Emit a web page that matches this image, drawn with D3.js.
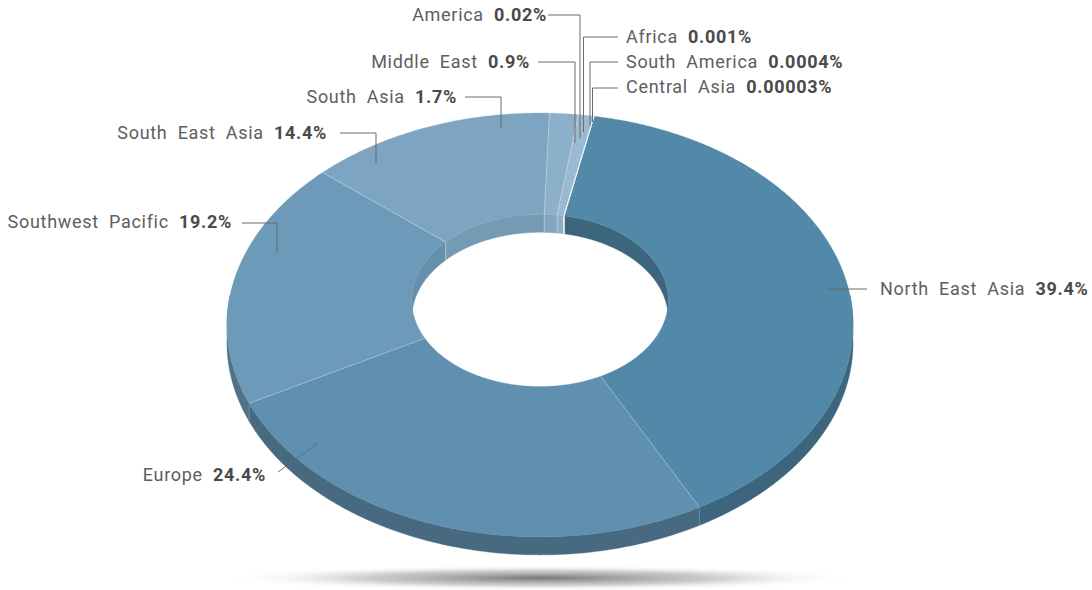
<!DOCTYPE html>
<html>
<head>
<meta charset="utf-8">
<script src="https://cdn.jsdelivr.net/npm/d3@7"></script>
<style>
  html, body { margin: 0; padding: 0; background: #ffffff; }
  svg { display: block; }
  .lbl { font-family: Roboto, "Liberation Sans", sans-serif; font-size: 18px; word-spacing: 5px; letter-spacing: 0.7px; }
</style>
</head>
<body>
<svg id="chart" width="1092" height="590"></svg>
<script>
// ---------------- data ----------------
const categories = ["North East Asia", "Europe", "Southwest Pacific", "South East Asia", "South Asia",
                    "Middle East", "America", "Africa", "South America", "Central Asia"];
const shares = [39.4, 24.4, 19.2, 14.4, 1.7, 0.9, 0.02, 0.001, 0.0004, 0.00003];
const valueLabels = ["39.4%", "24.4%", "19.2%", "14.4%", "1.7%", "0.9%", "0.02%", "0.001%", "0.0004%", "0.00003%"];
const colors = ["#5289a9", "#6090af", "#6e9ab9", "#7da5c1", "#8db0ca", "#9bbad2", "#a6c2d7", "#aec8db", "#b4ccde", "#b8cfe0"];

// ---------------- label layout (annotation placement) ----------------
const labelLayout = [
  { anchor: "start", x: 880, y: 289, tick: [[867, 289], [827, 289]] },
  { anchor: "end",   x: 266, y: 475, tick: [[278, 472], [318, 443]] },
  { anchor: "end",   x: 232, y: 222, tick: [[242, 223], [277, 223], [277, 253]] },
  { anchor: "end",   x: 327, y: 133, tick: [[340, 133], [376, 133], [376, 163]] },
  { anchor: "end",   x: 457, y: 97,  tick: [[465, 97], [501, 97], [501, 128]] },
  { anchor: "end",   x: 530, y: 62,  tick: [[538, 62], [575, 62], [575, 143]] },
  { anchor: "end",   x: 547, y: 15,  tick: [[548, 15], [580, 15], [580, 138]] },
  { anchor: "start", x: 626, y: 37,  tick: [[618, 37], [583.5, 37], [583.5, 132]] },
  { anchor: "start", x: 626, y: 62,  tick: [[618, 62], [590, 62], [590, 126]] },
  { anchor: "start", x: 626, y: 87,  tick: [[618, 88], [592.5, 88], [592.5, 122]] }
];

// ---------------- geometry ----------------
const svg = d3.select("#chart");
const cx = 540, cy = 295.5;          // projected centre of the pie plane
const alpha = 42.1 * Math.PI / 180;  // tilt
const sinA = Math.sin(alpha), cosA = Math.cos(alpha);
const viewDist = 1655;
const Rout = 310, Rin = 128, depth = 18;
const startDeg = 11.43;

function proj(theta, rho) {
  const X = rho * Math.sin(theta), Z = -rho * Math.cos(theta);
  const f = viewDist / (viewDist - Z * cosA);
  return [cx + X * f, cy + Z * sinA * f];
}
function arcPts(a0, a1, rho, dy) {
  const n = Math.max(2, Math.ceil(Math.abs(a1 - a0) / (0.4 * Math.PI / 180)));
  return d3.range(n + 1).map(i => {
    const p = proj(a0 + (a1 - a0) * i / n, rho);
    return [p[0], p[1] + (dy || 0)];
  });
}
const line = d3.line();

const pie = d3.pie().sort(null).value(d => d)
  .startAngle(startDeg * Math.PI / 180)
  .endAngle(startDeg * Math.PI / 180 + 2 * Math.PI);
const arcs = pie(shares);

// ---------------- shadow ----------------
const defs = svg.append("defs");
const grad = defs.append("radialGradient").attr("id", "shadowGrad");
grad.append("stop").attr("offset", "0%").attr("stop-color", "#707074").attr("stop-opacity", 0.95);
grad.append("stop").attr("offset", "55%").attr("stop-color", "#a4a4a8").attr("stop-opacity", 0.55);
grad.append("stop").attr("offset", "100%").attr("stop-color", "#ffffff").attr("stop-opacity", 0);
svg.append("ellipse").attr("cx", cx).attr("cy", 578).attr("rx", 318).attr("ry", 13)
  .attr("fill", "url(#shadowGrad)");

const gPie = svg.append("g");

function sideColor(c) { return d3.color(c).darker(0.85).formatHex(); }
function innerLight(c) { return d3.color(c).darker(0.2).formatHex(); }

// inner walls (visible back half: theta in [0, pi/2] and [3pi/2, 5pi/2])
const innerRanges = [[0, Math.PI / 2, true], [1.5 * Math.PI, 2.5 * Math.PI, false]];
arcs.forEach((a, i) => {
  innerRanges.forEach(([lo, hi, dark]) => {
    const b0 = Math.max(a.startAngle, lo), b1 = Math.min(a.endAngle, hi);
    if (b1 <= b0) return;
    const top = arcPts(b0, b1, Rin, 0);
    const bot = arcPts(b0, b1, Rin, depth).reverse();
    gPie.append("path").attr("d", line(top.concat(bot)) + "Z")
      .attr("fill", dark ? sideColor(colors[i]) : innerLight(colors[i]))
      .attr("stroke", dark ? sideColor(colors[i]) : innerLight(colors[i])).attr("stroke-width", 0.4);
  });
});
// inner wall seams at slice boundaries
arcs.forEach((a) => {
  const th = a.startAngle;
  const inBack = (th <= Math.PI / 2) || (th >= 1.5 * Math.PI);
  if (!inBack) return;
  const p = proj(th, Rin);
  gPie.append("line").attr("x1", p[0]).attr("y1", p[1]).attr("x2", p[0]).attr("y2", p[1] + depth)
    .attr("stroke", "rgba(255,255,255,0.45)").attr("stroke-width", 0.8);
});

// outer walls (visible front half: theta in [pi/2, 3pi/2])
arcs.forEach((a, i) => {
  const b0 = Math.max(a.startAngle, Math.PI / 2), b1 = Math.min(a.endAngle, 1.5 * Math.PI);
  if (b1 <= b0) return;
  const top = arcPts(b0, b1, Rout, 0);
  const bot = arcPts(b0, b1, Rout, depth).reverse();
  gPie.append("path").attr("d", line(top.concat(bot)) + "Z")
    .attr("fill", sideColor(colors[i])).attr("stroke", sideColor(colors[i])).attr("stroke-width", 0.4);
});

// top faces
arcs.forEach((a, i) => {
  const outer = arcPts(a.startAngle, a.endAngle, Rout, 0);
  const inner = arcPts(a.startAngle, a.endAngle, Rin, 0).reverse();
  gPie.append("path").attr("d", line(outer.concat(inner)) + "Z")
    .attr("fill", colors[i]).attr("stroke", colors[i]).attr("stroke-width", 0.3);
});
// top-face seams
arcs.forEach((a) => {
  const p0 = proj(a.startAngle, Rin), p1 = proj(a.startAngle, Rout);
  gPie.append("line").attr("x1", p0[0]).attr("y1", p0[1]).attr("x2", p1[0]).attr("y2", p1[1])
    .attr("stroke", "rgba(255,255,255,0.35)").attr("stroke-width", 0.8);
});
// seam down the outer wall at boundaries on the front
arcs.forEach((a) => {
  const th = a.startAngle;
  if (th < Math.PI / 2 || th > 1.5 * Math.PI) return;
  const p = proj(th, Rout);
  gPie.append("line").attr("x1", p[0]).attr("y1", p[1]).attr("x2", p[0]).attr("y2", p[1] + depth)
    .attr("stroke", "rgba(255,255,255,0.2)").attr("stroke-width", 0.8);
});

// ---------------- labels ----------------
const gLab = svg.append("g");
categories.forEach((name, i) => {
  const L = labelLayout[i];
  gLab.append("path").attr("d", line(L.tick)).attr("fill", "none")
    .attr("stroke", "#6b6b6b").attr("stroke-width", 1);
  const t = gLab.append("text").attr("class", "lbl")
    .attr("x", L.x).attr("y", L.y).attr("dy", "0.36em")
    .attr("text-anchor", L.anchor);
  t.append("tspan").attr("fill", "#5e5e5e").text(name + " ");
  t.append("tspan").attr("fill", "#4a4a4a").attr("font-weight", "bold").text(valueLabels[i]);
});
</script>
</body>
</html>
